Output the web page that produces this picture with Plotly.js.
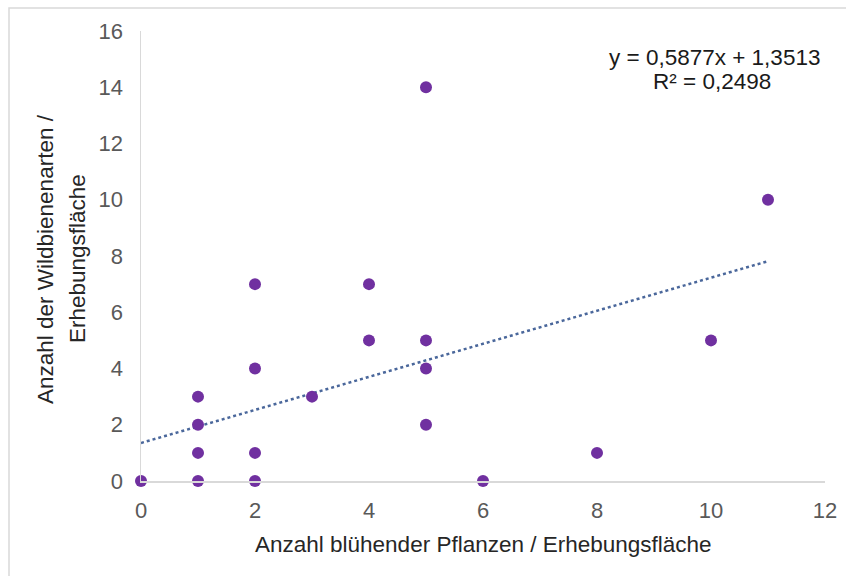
<!DOCTYPE html>
<html>
<head>
<meta charset="utf-8">
<script src="https://cdn.plot.ly/plotly-3.0.1.min.js"></script>
<style>
  html, body { margin: 0; padding: 0; background: #ffffff; }
  #chart { width: 846px; height: 576px; }
</style>
</head>
<body>
<div id="chart"></div>
<script>
// Data
const bluehendePflanzen = [0, 1, 1, 1, 1, 2, 2, 2, 2, 3, 4, 4, 5, 5, 5, 5, 6, 8, 10, 11];
const wildbienenarten   = [0, 0, 1, 2, 3, 0, 1, 4, 7, 3, 5, 7, 14, 5, 4, 2, 0, 1, 5, 10];
const xTicks = [0, 2, 4, 6, 8, 10, 12];
const yTicks = [0, 2, 4, 6, 8, 10, 12, 14, 16];
const slope = 0.5877;
const intercept = 1.3513;
const trendX = [0, 11];
const trendY = trendX.map(x => slope * x + intercept);
const equationText = "y = 0,5877x + 1,3513";
const r2Text = "R² = 0,2498";
const xTitle = "Anzahl blühender Pflanzen / Erhebungsfläche";
const yTitleLine1 = "Anzahl der Wildbienenarten /";
const yTitleLine2 = "Erhebungsfläche";

const FONT = "Liberation Sans, Arial, sans-serif";
const TICK_SIZE = 22;
const TEXT_SIZE = 22.5;

const traces = [
  {
    x: trendX, y: trendY, type: 'scatter', mode: 'lines',
    line: { color: '#4a679b', width: 2.5, dash: 'dot' },
    hoverinfo: 'skip', showlegend: false, cliponaxis: false
  },
  {
    x: bluehendePflanzen, y: wildbienenarten, type: 'scatter', mode: 'markers',
    marker: { color: '#7030a0', size: 12 },
    showlegend: false, cliponaxis: false
  }
];

const layout = {
  width: 846, height: 576,
  margin: { l: 141, r: 21, t: 31, b: 95 },
  paper_bgcolor: '#ffffff', plot_bgcolor: '#ffffff',
  font: { family: FONT, color: '#595959', size: TICK_SIZE },
  showlegend: false,
  xaxis: {
    range: [0, 12], tickvals: xTicks, ticktext: xTicks.map(String),
    showgrid: false, zeroline: false, showline: true,
    linecolor: '#d9d9d9', linewidth: 1.5, ticks: '',
    ticklabelstandoff: 9,
    tickfont: { family: FONT, size: TICK_SIZE, color: '#595959' }
  },
  yaxis: {
    range: [0, 16], tickvals: yTicks, ticktext: yTicks.map(String),
    showgrid: false, zeroline: false, showline: true,
    linecolor: '#d9d9d9', linewidth: 1.5, ticks: '',
    ticklabelstandoff: 12,
    tickfont: { family: FONT, size: TICK_SIZE, color: '#595959' }
  },
  annotations: [
    { text: equationText, xref: 'paper', yref: 'paper', x: (714 - 141) / 684, y: (481 - 57) / 450,
      xanchor: 'center', yanchor: 'middle', showarrow: false,
      font: { family: FONT, size: TEXT_SIZE, color: '#1a1a1a' } },
    { text: r2Text, xref: 'paper', yref: 'paper', x: (712 - 141) / 684, y: (481 - 82) / 450,
      xanchor: 'center', yanchor: 'middle', showarrow: false,
      font: { family: FONT, size: TEXT_SIZE, color: '#1a1a1a' } },
    { text: xTitle, xref: 'paper', yref: 'paper', x: (483 - 141) / 684, y: (481 - 544) / 450,
      xanchor: 'center', yanchor: 'middle', showarrow: false,
      font: { family: FONT, size: TEXT_SIZE, color: '#262626' } },
    { text: yTitleLine1, xref: 'paper', yref: 'paper', x: (45 - 141) / 684, y: (481 - 259) / 450,
      xanchor: 'center', yanchor: 'middle', showarrow: false, textangle: -90,
      font: { family: FONT, size: TEXT_SIZE, color: '#262626' } },
    { text: yTitleLine2, xref: 'paper', yref: 'paper', x: (77 - 141) / 684, y: (481 - 259) / 450,
      xanchor: 'center', yanchor: 'middle', showarrow: false, textangle: -90,
      font: { family: FONT, size: TEXT_SIZE, color: '#262626' } }
  ],
  shapes: [
    { type: 'rect', xref: 'paper', yref: 'paper', layer: 'below',
      x0: (9 - 141) / 684, x1: (860 - 141) / 684,
      y0: (481 - 590) / 450, y1: (481 - 8) / 450,
      line: { color: '#d9d9d9', width: 1.5 }, fillcolor: 'rgba(0,0,0,0)' }
  ]
};

Plotly.newPlot('chart', traces, layout, { displayModeBar: false, staticPlot: true });
</script>
</body>
</html>
